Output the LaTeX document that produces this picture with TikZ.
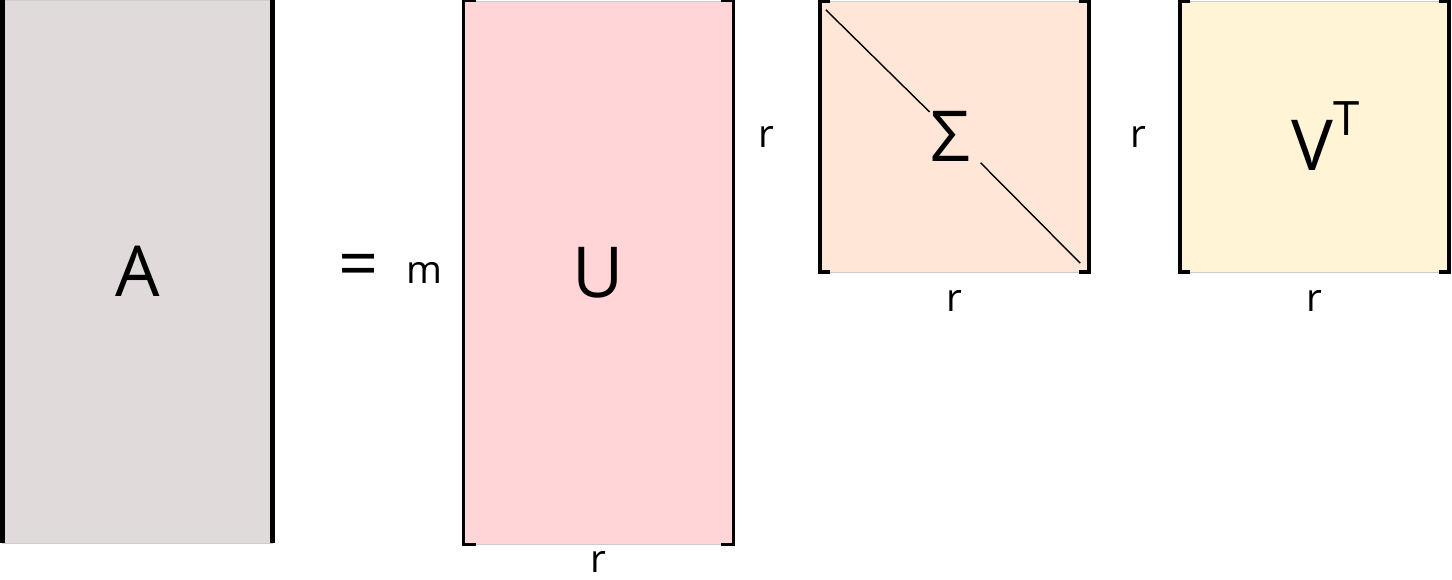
\documentclass[tikz,border=0pt]{standalone}
\usepackage{fontspec}
\setmainfont{Open Sans}
\usetikzlibrary{positioning}

\definecolor{fillA}{HTML}{E1DADB}
\definecolor{fillU}{HTML}{FFD5D7}
\definecolor{fillS}{HTML}{FFE6D6}
\definecolor{fillV}{HTML}{FFF4D6}

\tikzset{
  matbox/.style={draw=black!20, line width=0.3pt, inner sep=0pt,
    font=\fontsize{40}{40}\selectfont},
  dimlabel/.style={inner sep=0pt, font=\fontsize{22}{22}\selectfont},
  bracket/.style={line width=1.7pt},
  diag/.style={line width=0.8pt},
}

% square brackets round a node: node, tick length, style
\newcommand\brackets[3]{%
  \draw[#3] ([xshift=#2]#1.north west) -| (#1.south west) -- ([xshift=#2]#1.south west);
  \draw[#3] ([xshift=-#2]#1.north east) -| (#1.south east) -- ([xshift=-#2]#1.south east);
}

\begin{document}
\begin{tikzpicture}[x=0.02cm, y=-0.02cm]
\useasboundingbox (0,0) rectangle (1452,580);

% ===== Matrices =====
\node[matbox, fill=fillA, minimum width=5.4cm, minimum height=10.86cm] (A) at (137.5,271.5) {A};
\node[matbox, fill=fillU, minimum width=5.38cm, minimum height=10.86cm] (U) at (598.5,272.5) {U};
\node[matbox, fill=fillS, minimum width=5.38cm, minimum height=5.42cm] (S) at (954.5,136.5) {\hspace{-0.15cm}Σ};
\node[matbox, fill=fillV, minimum width=5.38cm, minimum height=5.42cm] (V) at (1314.5,136.5)
  {\hspace{0.45cm}V\raisebox{0.5em}{\fontsize{27}{27}\selectfont T}};

% ===== Brackets =====
\draw[line width=2.85pt] (A.north west) -- (A.south west);
\draw[line width=2.85pt] (A.north east) -- (A.south east);
\brackets{U}{0.24cm}{bracket}
\brackets{S}{0.2cm}{bracket, line width=2.3pt}
\brackets{V}{0.2cm}{bracket, line width=2.3pt}

% ===== Diagonal of Sigma =====
\draw[diag, shorten >=0.7cm] ([shift={(0.12cm,-0.18cm)}]S.north west) -- (S.center);
\draw[diag, shorten >=0.74cm] ([shift={(-0.18cm,0.18cm)}]S.south east) -- (S.center);

% ===== Labels =====
\node[font=\fontsize{40}{40}\selectfont, inner sep=0pt, right=1.3cm of A] (eq) {=};
\node[dimlabel, left=0.42cm of U] (m) {m};
\node[dimlabel, below=0.14cm of U] (rU) {r};
\node[dimlabel, left=0.9cm of S] (rSl) {r};
\node[dimlabel, below=0.36cm of S] (rSb) {r};
\node[dimlabel, left=0.66cm of V] (rVl) {r};
\node[dimlabel, below=0.36cm of V] (rVb) {r};

\end{tikzpicture}
\end{document}
